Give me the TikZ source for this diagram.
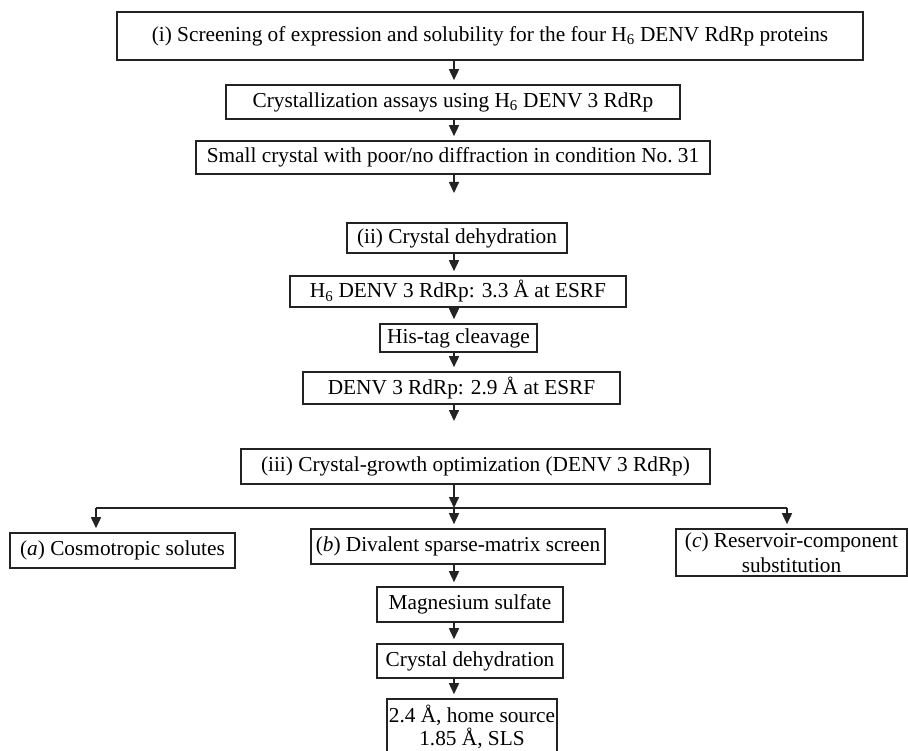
\documentclass[tikz,border=0pt]{standalone}
\usepackage{fontspec}
\setmainfont{Liberation Serif}
\usepackage{tikz}
\usetikzlibrary{arrows.meta, positioning, calc}
\definecolor{FlowInk}{RGB}{35,35,35}

\begin{document}
\begin{tikzpicture}[
    x=1pt, y=-1pt,
    >={Triangle[length=11pt, width=10pt]},
    font=\fontsize{21.3}{24.5}\selectfont,
    stepbox/.style={
        draw=FlowInk,
        line width=1.6pt,
        align=center,
        inner sep=0pt
    },
    flow/.style={->, draw=FlowInk, line width=1.6pt, shorten >=4pt},
    lead/.style={flow, shorten >=0pt},
    fork/.style={draw=FlowInk, line width=1.6pt}
]
\useasboundingbox (0,0) rectangle (908,751);
\coordinate (spine) at (454,0);

\node[stepbox, minimum width=746pt, minimum height=48pt] (screen) at (490,36)
{(i) Screening of expression and solubility for the four H\textsubscript{6} DENV RdRp proteins};

\node[stepbox, minimum width=454pt, minimum height=34pt] (assay) at (453,102)
{Crystallization assays using H\textsubscript{6} DENV 3 RdRp};

\node[stepbox, minimum width=514pt, minimum height=33pt] (smallxtal) at (453,157.5)
{Small crystal with poor/no diffraction in condition No.~31};

\coordinate (endI) at (454,193);

\draw[flow] (screen.south -| spine) -- (assay.north -| spine);
\draw[flow] (assay.south -| spine) -- (smallxtal.north -| spine);
\draw[lead] (smallxtal.south -| spine) -- (endI);

\node[stepbox, minimum width=220pt, minimum height=30pt] (dehydI) at (457,238)
{(ii) Crystal dehydration};

\node[stepbox, minimum width=336pt, minimum height=31pt] (tagged) at (458,291.5)
{H\textsubscript{6} DENV 3 RdRp: 3.3 Å at ESRF};

\node[stepbox, minimum width=157pt, minimum height=28pt] (histag) at (458.5,338)
{His-tag cleavage};

\node[stepbox, minimum width=317pt, minimum height=32pt] (cleaved) at (461.5,388)
{DENV 3 RdRp: 2.9 Å at ESRF};

\coordinate (endII) at (454,421);

\draw[flow] (dehydI.south -| spine) -- (tagged.north -| spine);
\draw[flow] (tagged.south -| spine) -- (histag.north -| spine);
\draw[flow] (histag.south -| spine) -- (cleaved.north -| spine);
\draw[lead] (cleaved.south -| spine) -- (endII);

\node[stepbox, minimum width=469pt, minimum height=35pt] (optim) at (475.5,466.5)
{(iii) Crystal-growth optimization (DENV 3 RdRp)};

\coordinate (forkA) at (96,508);
\coordinate (forkB) at (454,508);
\coordinate (forkC) at (787,508);

\node[stepbox, minimum width=225pt, minimum height=35pt] (cosmo) at (122.5,550.5)
{(\textit{a}) Cosmotropic solutes};

\node[stepbox, minimum width=294pt, minimum height=35pt] (divalent) at (458,546.5)
{(\textit{b}) Divalent sparse-matrix screen};

\node[stepbox, minimum width=231pt, minimum height=47pt] (reservoir) at (791.5,552.5)
{(\textit{c}) Reservoir-component\\substitution};

\draw[lead] (optim.south -| spine) -- (forkB);
\draw[fork] (forkA) -- (forkC);
\draw[flow] (forkA) -- (cosmo.north -| forkA);
\draw[flow] (forkB) -- (divalent.north -| forkB);
\draw[flow] (forkC) -- (reservoir.north -| forkC);

\node[stepbox, minimum width=186pt, minimum height=35pt] (mgsulf) at (470,604.5)
{Magnesium sulfate};

\node[stepbox, minimum width=186pt, minimum height=34pt] (dehydII) at (470,661)
{Crystal dehydration};

\node[stepbox, minimum width=170pt, minimum height=55pt,
      font=\fontsize{21.3}{23}\selectfont] (result) at (472,726.5)
{2.4 Å, home source\\1.85 Å, SLS};

\draw[flow] (divalent.south -| spine) -- (mgsulf.north -| spine);
\draw[flow] (mgsulf.south -| spine) -- (dehydII.north -| spine);
\draw[flow] (dehydII.south -| spine) -- (result.north -| spine);

\end{tikzpicture}
\end{document}
